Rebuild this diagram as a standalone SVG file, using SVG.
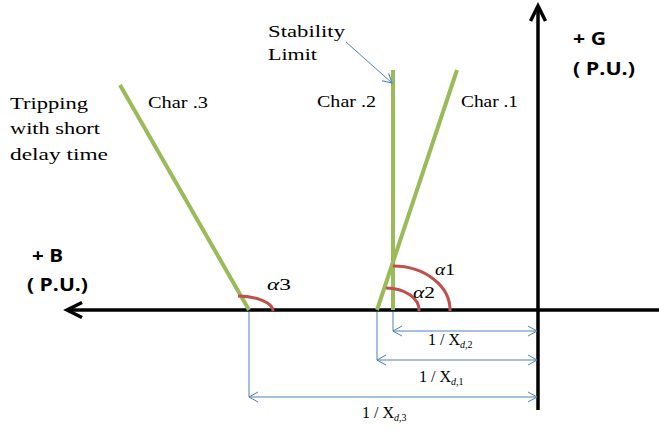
<svg xmlns="http://www.w3.org/2000/svg" width="659" height="434" viewBox="0 0 659 434">
<defs>
<marker id="ba" markerWidth="12" markerHeight="12" refX="10" refY="6" orient="auto-start-reverse" markerUnits="userSpaceOnUse">
<polyline points="1,1 10,6 1,11" fill="none" stroke="#4F81BD" stroke-width="1"/>
</marker>
</defs>
<style>
.g{stroke:#9BBB59;stroke-width:4;fill:none}
.r{stroke:#C0504D;stroke-width:3;fill:none}
.d{stroke:#4F81BD;stroke-width:1;fill:none}
.ax{stroke:#000;stroke-width:3.5;fill:none}
</style>
<rect width="659" height="434" fill="#fff"/>
<g id="axes">
<line class="ax" x1="69" y1="310" x2="659" y2="310"/>
<polyline class="ax" points="82,302.5 67,310 82,317.5"/>
<line class="ax" x1="538" y1="8" x2="538" y2="410"/>
<polyline class="ax" points="530.5,21 538,6 545.5,21"/>
</g>
<g font-family="'Liberation Serif','DejaVu Serif',serif" font-size="17" fill="#000">
<g id="char1"><line class="g" x1="457" y1="70" x2="377" y2="310"/><text x="461" y="107" textLength="57" lengthAdjust="spacingAndGlyphs">Char .1</text></g>
<g id="char2"><line class="g" x1="393" y1="70" x2="393" y2="310"/><text x="317" y="107" textLength="59" lengthAdjust="spacingAndGlyphs">Char .2</text></g>
<g id="char3"><line class="g" x1="120" y1="85" x2="249" y2="310"/><text x="148" y="108" textLength="60" lengthAdjust="spacingAndGlyphs">Char .3</text></g>
<g id="arcs">
<path class="r" d="M393,266 A57,44 0 0 1 450,311"/>
<path class="r" d="M386,288 A33,22 0 0 1 419,311"/>
<path class="r" d="M238,296 A36,15 0 0 1 273,311"/>
<text x="435" y="275" textLength="20" lengthAdjust="spacingAndGlyphs"><tspan font-style="italic">α</tspan>1</text>
<text x="413" y="298" textLength="22" lengthAdjust="spacingAndGlyphs"><tspan font-style="italic">α</tspan>2</text>
<text x="267" y="290" textLength="24" lengthAdjust="spacingAndGlyphs"><tspan font-style="italic">α</tspan>3</text>
</g>
<g id="stability">
<text x="268" y="37" textLength="77" lengthAdjust="spacingAndGlyphs">Stability</text>
<text x="268" y="60" textLength="49" lengthAdjust="spacingAndGlyphs">Limit</text>
</g>
<g id="tripping">
<text x="10" y="109" textLength="78" lengthAdjust="spacingAndGlyphs">Tripping</text>
<text x="10" y="134" textLength="90" lengthAdjust="spacingAndGlyphs">with short</text>
<text x="10" y="160" textLength="98" lengthAdjust="spacingAndGlyphs">delay time</text>
</g>
</g>
<g font-family="'Open Sans','Liberation Sans',sans-serif" font-weight="bold" font-size="17" fill="#000">
<g id="g-axis-label">
<text x="573" y="45" textLength="33" lengthAdjust="spacingAndGlyphs">+ G</text>
<text x="573" y="75" textLength="62" lengthAdjust="spacingAndGlyphs">( P.U.)</text>
</g>
<g id="b-axis-label">
<text x="32" y="262" textLength="31" lengthAdjust="spacingAndGlyphs">+ B</text>
<text x="27" y="291" textLength="61" lengthAdjust="spacingAndGlyphs">( P.U.)</text>
</g>
</g>
<g id="connectors">
<line class="d" x1="346" y1="42" x2="392" y2="83" marker-end="url(#ba)"/>
<line class="d" x1="393" y1="312" x2="393" y2="331"/>
<line class="d" x1="393" y1="331" x2="537" y2="331" marker-start="url(#ba)" marker-end="url(#ba)"/>
<line class="d" x1="377" y1="312" x2="377" y2="360"/>
<line class="d" x1="377" y1="360" x2="537" y2="360" marker-start="url(#ba)" marker-end="url(#ba)"/>
<line class="d" x1="249" y1="312" x2="249" y2="397"/>
<line class="d" x1="249" y1="397" x2="537" y2="397" marker-start="url(#ba)" marker-end="url(#ba)"/>
</g>
<g id="dimlabels" font-family="'Liberation Serif','DejaVu Serif',serif" font-size="16" fill="#000">
<text x="428" y="345">1 / X<tspan font-size="10" dy="3"><tspan font-style="italic">d</tspan>,2</tspan></text>
<text x="419" y="382">1 / X<tspan font-size="10" dy="3"><tspan font-style="italic">d</tspan>,1</tspan></text>
<text x="362" y="418">1 / X<tspan font-size="10" dy="3"><tspan font-style="italic">d</tspan>,3</tspan></text>
</g>
</svg>
